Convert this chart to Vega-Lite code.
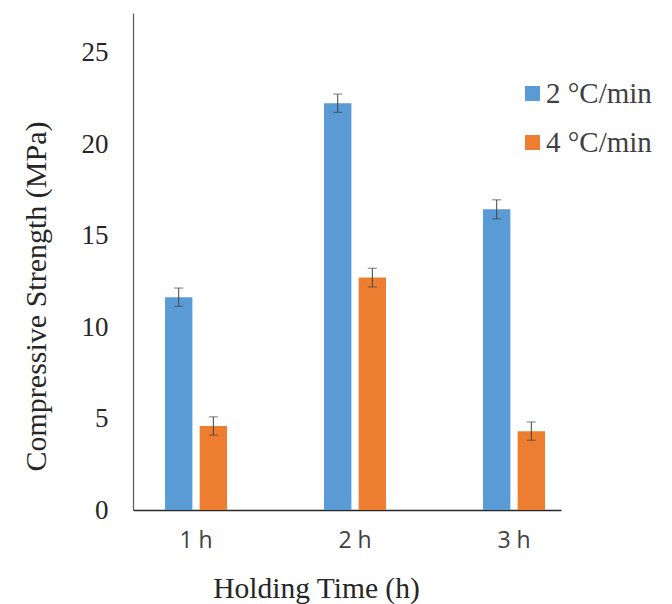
{
  "$schema": "https://vega.github.io/schema/vega-lite/v6.json",
  "width": 428,
  "height": 497,
  "autosize": "none",
  "padding": {"left": 133, "top": 13, "right": 111, "bottom": 94},
  "background": "white",
  "config": {"view": {"stroke": null}},
  "data": {"values": [
    {"time": "1 h", "rate": "2 °C/min", "strength": 11.63, "lo": 11.13, "hi": 12.13},
    {"time": "1 h", "rate": "4 °C/min", "strength": 4.59, "lo": 4.09, "hi": 5.09},
    {"time": "2 h", "rate": "2 °C/min", "strength": 22.23, "lo": 21.73, "hi": 22.73},
    {"time": "2 h", "rate": "4 °C/min", "strength": 12.70, "lo": 12.19, "hi": 13.21},
    {"time": "3 h", "rate": "2 °C/min", "strength": 16.43, "lo": 15.91, "hi": 16.95},
    {"time": "3 h", "rate": "4 °C/min", "strength": 4.31, "lo": 3.81, "hi": 4.81}
  ]},
  "encoding": {
    "x": {
      "field": "time", "type": "nominal",
      "scale": {"paddingInner": 0.61, "paddingOuter": 0.151, "align": 0.667},
      "axis": {
        "title": "Holding Time (h)",
        "labelAngle": 0,
        "labelFont": "Open Sans", "labelFontSize": 23, "labelColor": "#404040",
        "labelBaseline": "alphabetic", "labelPadding": 37,
        "ticks": false, "tickSize": 0,
        "domainColor": "#262626", "domainWidth": 1.5,
        "titleFont": "Liberation Serif", "titleFontSize": 29.5, "titleFontWeight": "normal",
        "titleColor": "#262626", "titleX": 183, "titleY": 87, "titleBaseline": "alphabetic"
      }
    },
    "xOffset": {"field": "rate", "type": "nominal", "scale": {"paddingInner": 0.21, "paddingOuter": 0}}
  },
  "layer": [
    {
      "mark": {"type": "bar"},
      "encoding": {
        "y": {
          "field": "strength", "type": "quantitative",
          "scale": {"domain": [0, 27.16], "nice": false, "zero": true},
          "axis": {
            "title": "Compressive Strength (MPa)",
            "values": [0, 5, 10, 15, 20, 25],
            "grid": false, "ticks": false, "tickSize": 0,
            "domainColor": "#595959", "domainWidth": 1.2,
            "labelFont": "Liberation Serif", "labelFontSize": 27, "labelColor": "#262626",
            "labelPadding": 25,
            "titleFont": "Liberation Serif", "titleFontSize": 30, "titleFontWeight": "normal",
            "titleColor": "#262626", "titleX": -88, "titleY": 283, "titleBaseline": "alphabetic"
          }
        },
        "color": {
          "field": "rate", "type": "nominal",
          "scale": {"domain": ["2 °C/min", "4 °C/min"], "range": ["#5B9BD5", "#ED7D31"]},
          "legend": {
            "title": null, "orient": "none", "legendX": 385, "legendY": 66,
            "symbolType": "square", "symbolSize": 225, "symbolStrokeWidth": 0,
            "labelFont": "Liberation Serif", "labelFontSize": 29, "labelColor": "#404040",
            "labelOffset": -1, "rowPadding": 19, "padding": 0
          }
        }
      }
    },
    {
      "mark": {"type": "rule", "color": "#404040", "strokeWidth": 1},
      "encoding": {
        "y": {"field": "lo", "type": "quantitative"},
        "y2": {"field": "hi"}
      }
    },
    {
      "mark": {"type": "tick", "color": "#404040", "size": 9, "thickness": 1},
      "encoding": {"y": {"field": "hi", "type": "quantitative"}}
    },
    {
      "mark": {"type": "tick", "color": "#404040", "size": 9, "thickness": 1},
      "encoding": {"y": {"field": "lo", "type": "quantitative"}}
    }
  ]
}
